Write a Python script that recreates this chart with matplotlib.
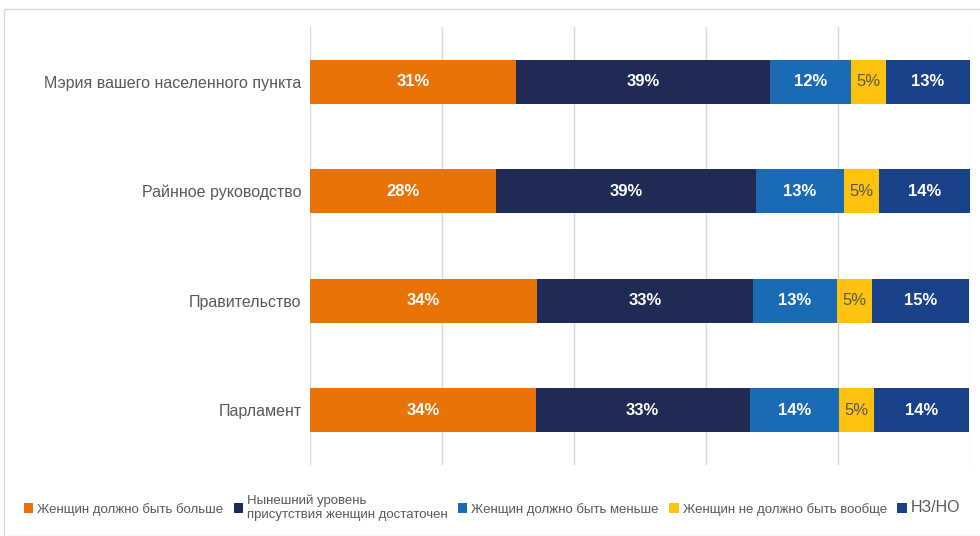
import numpy as np
import matplotlib.pyplot as plt
from matplotlib.patches import Rectangle

categories = ['Мэрия вашего населенного пункта', 'Райнное руководство', 'Правительство', 'Парламент']
series_names = ['Женщин должно быть больше', 'Нынешний уровень\nприсутствия женщин достаточен',
                'Женщин должно быть меньше', 'Женщин не должно быть вообще', 'НЗ/НО']
more = [31.2, 28.2, 34.4, 34.2]
enough = [38.5, 39.4, 32.7, 32.4]
less = [12.3, 13.3, 12.7, 13.6]
none_ = [5.3, 5.3, 5.3, 5.3]
dk = [12.7, 13.8, 14.8, 14.4]
labels = [[31, 39, 12, 5, 13], [28, 39, 13, 5, 14], [34, 33, 13, 5, 15], [34, 33, 14, 5, 14]]

colors = ['#E97306', '#1F2B55', '#1A6AB4', '#FFC20E', '#1A428A']
txt_colors = ['white', 'white', 'white', '#595959', 'white']

plt.rcParams['font.family'] = ['Liberation Sans', 'DejaVu Sans']

fig = plt.figure(figsize=(9.8, 5.36), dpi=100)
ax = fig.add_axes([310/980, 1-465/536, 660/980, 438/536])

fig.patches.append(Rectangle((4/980, 0), 1.2, 1-9/536, transform=fig.transFigure,
                             fill=False, edgecolor='#D9D9D9', lw=1))

y = np.arange(len(categories))
data = [more, enough, less, none_, dk]
left = np.zeros(len(categories))
for k, vals in enumerate(data):
    ax.barh(y, vals, left=left, height=0.4, color=colors[k], label=series_names[k], zorder=3)
    for i, v in enumerate(vals):
        ax.text(left[i] + v/2, y[i], f'{labels[i][k]}%', ha='center', va='center',
                color=txt_colors[k], fontsize=12,
                fontweight='normal' if k == 3 else 'bold', zorder=4)
    left += np.array(vals)

ax.set_xlim(0, 100)
ax.set_ylim(3.5, -0.5)
ax.set_xticks([0, 20, 40, 60, 80, 100])
ax.set_xticklabels([])
ax.tick_params(axis='x', length=0)
ax.tick_params(axis='y', length=0, pad=6)
ax.set_yticks(y)
ax.set_yticklabels(categories, fontsize=11.5, color='#595959')
ax.grid(axis='x', color='#D9D9D9', lw=1, zorder=0)
for s in ax.spines.values():
    s.set_visible(False)

leg = fig.legend(loc='center', bbox_to_anchor=(0.502, 1-508/536), ncol=5, frameon=False,
                 handlelength=0.7, handleheight=0.7, handletextpad=0.3, columnspacing=0.8,
                 prop={'size': 9.5})
for t in leg.get_texts():
    t.set_color('#595959')
leg.get_texts()[4].set_fontsize(11.5)

fig.savefig('out.png', dpi=100)
